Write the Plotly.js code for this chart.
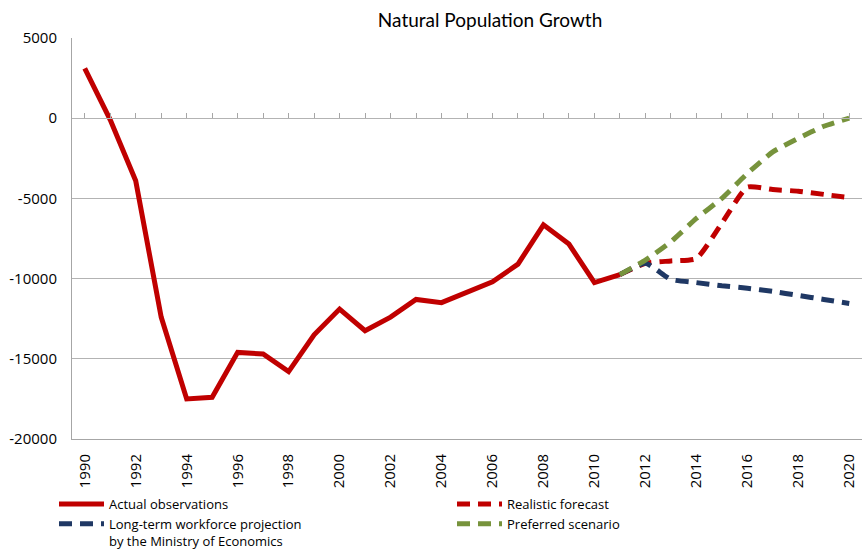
<!DOCTYPE html>
<html>
<head>
<meta charset="utf-8">
<script src="https://cdn.plot.ly/plotly-3.0.1.min.js"></script>
<style>html,body{margin:0;padding:0;background:#fff;}#chart{width:862px;height:551px;}</style>
</head>
<body>
<div id="chart"></div>
<script>
// ---- data ----
var actualYears = [1990,1991,1992,1993,1994,1995,1996,1997,1998,1999,2000,2001,2002,2003,2004,2005,2006,2007,2008,2009,2010,2011];
var actualValues = [3100,-100,-3900,-12400,-17500,-17400,-14600,-14700,-15800,-13500,-11900,-13250,-12400,-11300,-11500,-10850,-10200,-9100,-6650,-7850,-10250,-9750];

var forecastYears = [2011,2012,2013,2014,2015,2016,2017,2018,2019,2020];
var realisticValues = [-9750,-9050,-8900,-8750,-6550,-4300,-4450,-4550,-4750,-4950];
var ministryValues = [-9750,-9050,-10050,-10250,-10450,-10600,-10800,-11050,-11300,-11550];
var preferredValues = [-9750,-8850,-7700,-6250,-5000,-3450,-2100,-1250,-500,0];

var seriesNames = ['Actual observations','Realistic forecast','Long-term workforce projection<br>by the Ministry of Economics','Preferred scenario'];

var xTickVals = [1990,1992,1994,1996,1998,2000,2002,2004,2006,2008,2010,2012,2014,2016,2018,2020];
var xTickLabels = ['1990','1992','1994','1996','1998','2000','2002','2004','2006','2008','2010','2012','2014','2016','2018','2020'];
var yTickVals = [-20000,-15000,-10000,-5000,0,5000];
var yTickLabels = ['-20000','-15000','-10000','-5000','0','5000'];

var chartTitle = 'Natural Population Growth';

// ---- styles ----
var RED = '#C00000', BLUE = '#1F3864', GREEN = '#77933C';
var TITLE_FONT = 'Lato, "Open Sans", sans-serif';
var FONT = '"Open Sans", "Noto Sans", sans-serif';
var DASH = '13px,8px';

var traces = [
  {x: actualYears, y: actualValues, name: seriesNames[0], type: 'scatter', mode: 'lines',
   line: {color: RED, width: 5}, legend: 'legend', legendrank: 1, xaxis: 'x', yaxis: 'y'},
  {x: forecastYears, y: realisticValues, name: seriesNames[1], type: 'scatter', mode: 'lines',
   line: {color: RED, width: 5, dash: DASH, shape: 'spline', smoothing: 0.5}, legend: 'legend2', legendrank: 1, xaxis: 'x2', yaxis: 'y'},
  {x: forecastYears, y: ministryValues, name: seriesNames[2], type: 'scatter', mode: 'lines',
   line: {color: BLUE, width: 5, dash: DASH, shape: 'spline', smoothing: 0.5}, legend: 'legend', legendrank: 2, xaxis: 'x2', yaxis: 'y'},
  {x: forecastYears, y: preferredValues, name: seriesNames[3], type: 'scatter', mode: 'lines',
   line: {color: GREEN, width: 5, dash: DASH, shape: 'spline', smoothing: 0.5}, legend: 'legend2', legendrank: 2, xaxis: 'x2', yaxis: 'y'}
];

var xRange = [1989.5, 2020.5];
var legendTop = 1 - 489/551;

var layout = {
  width: 862, height: 551,
  margin: {l: 72, r: 0, t: 38, b: 112, autoexpand: false},
  paper_bgcolor: '#ffffff', plot_bgcolor: '#ffffff',
  font: {family: FONT, size: 15, color: '#000000'},
  title: {text: chartTitle, font: {family: TITLE_FONT, size: 19, color: '#000000'},
          xref: 'container', yref: 'container', x: 0.5685, xanchor: 'center', y: 1 - 20/551, yanchor: 'middle'},
  xaxis: {range: xRange, tickmode: 'array', tickvals: xTickVals, ticktext: xTickLabels, tickangle: -90,
          showgrid: false, zeroline: false, showline: true, linecolor: '#a6a6a6', linewidth: 1,
          ticks: '', ticklabelstandoff: 8, tickfont: {family: FONT, size: 15, color: '#000'}},
  xaxis2: {range: xRange, overlaying: 'x', anchor: 'free', position: 0.8, side: 'bottom',
           showgrid: false, zeroline: false, showline: true, linecolor: '#b3b3b3', linewidth: 1,
           tickmode: 'linear', tick0: 1990, dtick: 1, ticks: 'inside', ticklen: 5, tickcolor: '#a6a6a6', tickwidth: 1,
           showticklabels: false},
  yaxis: {range: [-20000, 5000], tickmode: 'array', tickvals: yTickVals, ticktext: yTickLabels,
          showgrid: true, gridcolor: '#b3b3b3', gridwidth: 1, zeroline: false,
          showline: true, linecolor: '#a6a6a6', linewidth: 1, ticks: '', ticklabelstandoff: 11,
          tickfont: {family: FONT, size: 15, color: '#000'}},
  showlegend: true,
  legend: {xref: 'container', yref: 'container', x: 54/862, y: legendTop, xanchor: 'left', yanchor: 'top', orientation: 'v', valign: 'top',
           bgcolor: 'rgba(0,0,0,0)', font: {family: FONT, size: 13, color: '#000'}, itemwidth: 45,
           traceorder: 'normal', tracegroupgap: 0},
  legend2: {xref: 'container', yref: 'container', x: 452/862, y: legendTop, xanchor: 'left', yanchor: 'top', orientation: 'v', valign: 'top',
           bgcolor: 'rgba(0,0,0,0)', font: {family: FONT, size: 13, color: '#000'}, itemwidth: 45,
           traceorder: 'normal', tracegroupgap: 0}
};

Plotly.newPlot('chart', traces, layout, {displayModeBar: false, staticPlot: true});
</script>
</body>
</html>
